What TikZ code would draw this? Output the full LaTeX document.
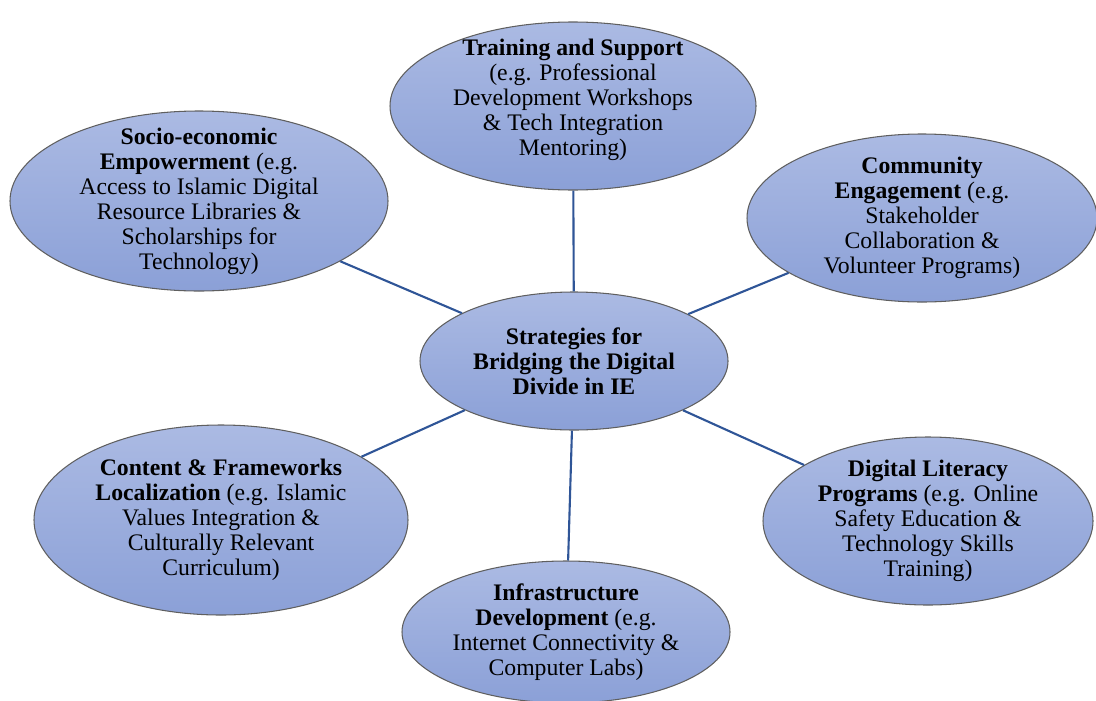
\documentclass[tikz,border=0pt]{standalone}
\usepackage{fontspec}
\setmainfont{Liberation Serif}
\usetikzlibrary{shapes.geometric}
\definecolor{bubbletop}{RGB}{171,186,227}
\definecolor{bubblebot}{RGB}{139,160,215}
\definecolor{bubbleedge}{RGB}{95,95,95}
\definecolor{spokeblue}{RGB}{47,85,151}
\tikzset{
  bubble/.style={
    ellipse, draw=bubbleedge, line width=0.6pt,
    top color=bubbletop, bottom color=bubblebot, inner sep=0pt
  },
  bubbletext/.style={align=center, inner sep=0pt, font=\fontsize{13.5}{14.2}\selectfont},
  spokeline/.style={draw=spokeblue, line width=1.2pt},
}

\begin{document}
\begin{tikzpicture}
  \useasboundingbox (0,0) rectangle (21.92,-14);

  % Ellipses
  \node[bubble, minimum width=6.16cm, minimum height=2.76cm] (hub) at (11.48,-7.22) {};
  \node[bubble, minimum width=7.32cm, minimum height=3.36cm] (train) at (11.46,-2.12) {};
  \node[bubble, minimum width=7.56cm, minimum height=3.60cm] (socio) at (3.98,-4.02) {};
  \node[bubble, minimum width=7.00cm, minimum height=3.36cm] (comm) at (18.44,-4.36) {};
  \node[bubble, minimum width=7.48cm, minimum height=3.80cm] (content) at (4.42,-10.40) {};
  \node[bubble, minimum width=6.60cm, minimum height=3.36cm] (literacy) at (18.56,-10.42) {};
  \node[bubble, minimum width=6.56cm, minimum height=2.84cm] (infra) at (11.32,-12.64) {};

  % Spokes
  \foreach \n in {train, socio, comm, content, literacy, infra} {
    \draw[spokeline] (hub) -- (\n);
  }

  % Labels
  \node[bubbletext] (hubtext) at (hub) {\textbf{Strategies for}\\\textbf{Bridging the Digital}\\\textbf{Divide in IE}};
  \node[bubbletext] (traintext) at ([yshift=1.2mm]train) {\textbf{Training and Support}\\(e.g. Professional\\Development Workshops\\\& Tech Integration\\Mentoring)};
  \node[bubbletext] (sociotext) at (socio) {\textbf{Socio-economic}\\\textbf{Empowerment} (e.g.\\Access to Islamic Digital\\Resource Libraries \&\\Scholarships for\\Technology)};
  \node[bubbletext] (commtext) at (comm) {\textbf{Community}\\\textbf{Engagement} (e.g.\\Stakeholder\\Collaboration \&\\Volunteer Programs)};
  \node[bubbletext] (contenttext) at (content) {\textbf{Content \& Frameworks}\\\textbf{Localization} (e.g. Islamic\\Values Integration \&\\Culturally Relevant\\Curriculum)};
  \node[bubbletext] (literacytext) at (literacy) {\textbf{Digital Literacy}\\\textbf{Programs} (e.g. Online\\Safety Education \&\\Technology Skills\\Training)};
  \node[bubbletext] (infratext) at (infra) {\textbf{Infrastructure}\\\textbf{Development} (e.g.\\Internet Connectivity \&\\Computer Labs)};
\end{tikzpicture}
\end{document}
